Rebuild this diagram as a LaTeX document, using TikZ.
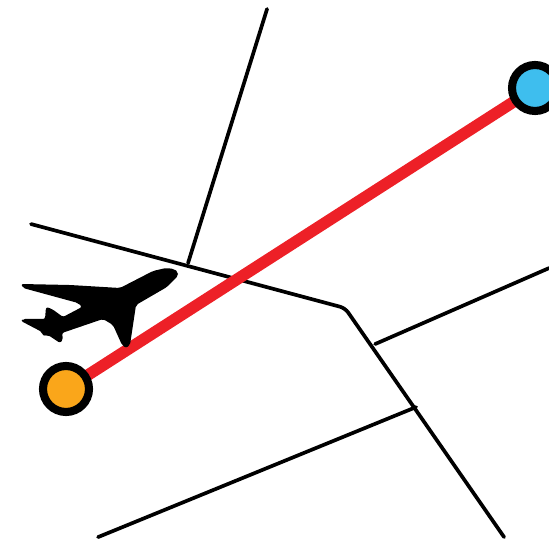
\documentclass[tikz,border=0pt]{standalone}
\usetikzlibrary{backgrounds}
\definecolor{routered}{RGB}{237,32,39}
\definecolor{deporange}{RGB}{250,166,26}
\definecolor{arrblue}{RGB}{62,190,238}
\begin{document}
\begin{tikzpicture}[scale=0.02]
\tikzset{road/.style={black,line width=2.1pt,line cap=round,line join=round},
  route/.style={routered,line width=6.6pt},
  stop/.style={circle,draw=black,line width=4.6pt,minimum size=0.92cm,inner sep=0pt}}
\useasboundingbox (0,0) rectangle (549,-541);
\node [stop,fill=deporange] (dep) at (66,-389) {};
\node [stop,fill=arrblue] (arr) at (535,-88) {};
\coordinate (mainA) at (31,-224);
\coordinate (bendA) at (345,-308);
\coordinate (mainB) at (504,-537);
\coordinate (joinN) at (188,-263);
\coordinate (endN) at (267,-9);
\coordinate (joinE) at (375,-344);
\coordinate (endE) at (549,-268);
\coordinate (joinS) at (416,-407);
\coordinate (endS) at (98,-537);
\begin{scope}[on background layer]
\draw [road,rounded corners=3pt] (mainA) -- (bendA) -- (mainB);
\draw [road] (endN) -- (joinN);
\draw [road] (endE) -- (joinE);
\draw [road] (endS) -- (joinS);
\draw [route] (dep.center) -- (arr.center);
\end{scope}
% plane
\fill [black,rounded corners=1.2pt] (178,-272) -- (174,-269) -- (166,-268) -- (153,-271) -- (120,-288)
  -- (70,-285) -- (21,-284) -- (23,-288) -- (78,-303) -- (82,-307) -- (63,-317) -- (52,-309)
  -- (46,-307) -- (45,-319) -- (23,-319) -- (21,-321) -- (42,-332) -- (43,-336) -- (48,-335)
  -- (60,-343) -- (63,-340) -- (62,-333) -- (103,-319) -- (113,-325) -- (122,-345) -- (126,-348)
  -- (130,-345) -- (136,-305) -- (167,-287) -- (178,-276) -- cycle;
\end{tikzpicture}
\end{document}
